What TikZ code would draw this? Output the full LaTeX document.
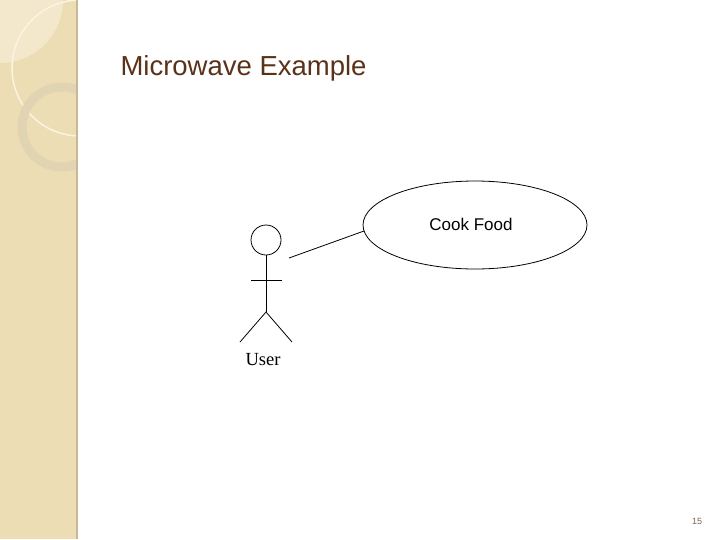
\documentclass[tikz,border=0pt]{standalone}
\usepackage{fontspec}
\usetikzlibrary{shapes.geometric}
\setmainfont{Liberation Serif}
\newfontfamily\sans{Liberation Sans}
\definecolor{panel}{RGB}{236,221,180}
\definecolor{panellight}{RGB}{243,232,204}
\definecolor{arcwhite}{RGB}{250,244,225}
\definecolor{ringc}{RGB}{224,212,178}
\definecolor{edgec}{RGB}{200,185,150}
\definecolor{titlec}{RGB}{90,50,25}
\definecolor{pgc}{RGB}{120,100,80}
\begin{document}
\begin{tikzpicture}[x=1pt,y=-1pt,
  ln/.style={draw=black,line width=0.8pt}]
\useasboundingbox (0,0) rectangle (719,539);
\fill[white] (0,0) rectangle (719,539);
\begin{scope}
\clip (0,0) rectangle (76,539);
\fill[panel] (0,0) rectangle (76,539);
\fill[panellight] (0,0) circle (63);
\draw[arcwhite,line width=1.5pt] (80,68) circle (68);
\draw[ringc,line width=9pt] (62,127) circle (40);
\end{scope}
\draw[edgec,line width=2pt] (77,0) -- (77,539);
\node[anchor=west,text=titlec,font=\sans\fontsize{27.5}{30}\selectfont] (title) at (117,68) {Microwave Example};
\node[ln,ellipse,minimum width=224,minimum height=88,inner sep=0pt] (uc) at (475,225) {};
\node[font=\sans\fontsize{17}{19}\selectfont] (uct) at (471,224) {Cook Food};
\node[ln,circle,minimum size=30,inner sep=0pt] (head) at (266,240) {};
\coordinate (hip) at (266,312);
\coordinate (la) at (251,280); \coordinate (ra) at (282,280);
\coordinate (ll) at (240,342); \coordinate (rl) at (292,342);
\draw[ln] (head.south) -- (hip);
\draw[ln] (la) -- (ra);
\draw[ln] (ll) -- (hip) -- (rl);
\coordinate (a1) at (289,258);
\coordinate (a2) at (364,231);
\draw[ln] (a1) -- (a2);
\node[font=\fontsize{18.5}{20}\selectfont] (user) at (263,360) {User};
\node[font=\sans\fontsize{9}{10}\selectfont,text=pgc] (pg) at (697,521) {15};
\end{tikzpicture}
\end{document}
